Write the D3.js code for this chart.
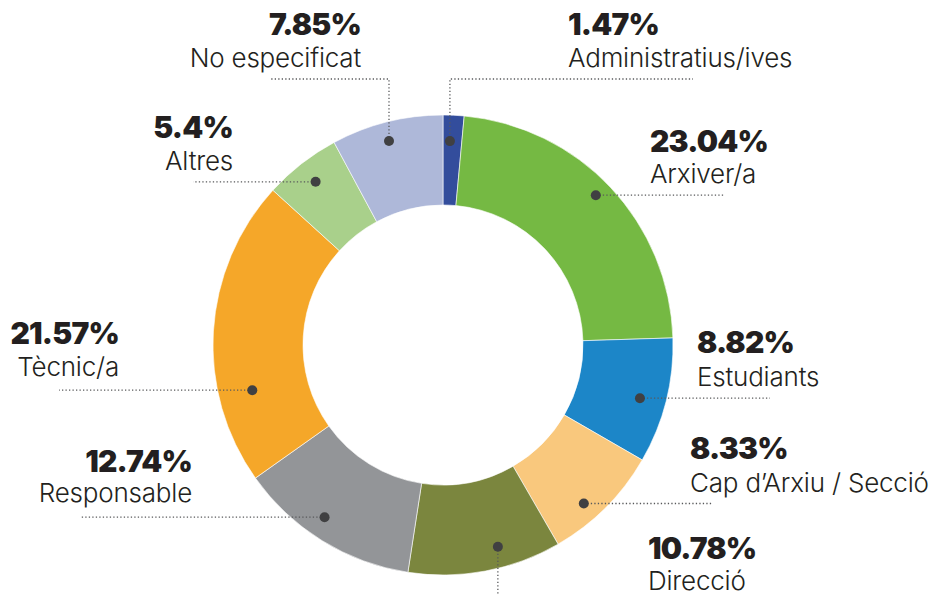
<!DOCTYPE html>
<html>
<head>
<meta charset="utf-8">
<script src="https://cdn.jsdelivr.net/npm/d3@7/dist/d3.min.js"></script>
<style>
  html, body { margin: 0; padding: 0; background: #ffffff; }
  svg { display: block; }
  .pct { font-family: Inter, "Noto Sans", sans-serif; font-weight: 900; font-size: 30px; fill: #231f20; letter-spacing: -0.8px; }
  .name { font-family: Inter, "Noto Sans", sans-serif; font-weight: 300; font-size: 26px; fill: #231f20; letter-spacing: -0.2px; }
</style>
</head>
<body>
<svg id="chart" width="937" height="595"></svg>
<script>
// ---- Data ----
const categories = ["Administratius/ives", "Arxiver/a", "Estudiants", "Cap d\u2019Arxiu / Secci\u00f3", "Direcci\u00f3", "Responsable", "T\u00e8cnic/a", "Altres", "No especificat"];
const values = [1.47, 23.04, 8.82, 8.33, 10.78, 12.74, 21.57, 5.4, 7.85];
const valueLabels = ["1.47%", "23.04%", "8.82%", "8.33%", "10.78%", "12.74%", "21.57%", "5.4%", "7.85%"];
const colors = ["#334d9c", "#75b943", "#1c86c8", "#f9c87d", "#7b863e", "#939598", "#f5a729", "#a9d08b", "#aeb8d9"];

// ---- Layout (annotation placement) ----
const W = 937, H = 595;
const cx = 443, cy = 345, rOuter = 230, rInner = 140;
const layout = [
  { anchor: "start", x: 568, y1: 35,  y2: 67,  dA: -0.7, r: 204, route: "up",    turnY: 79, endX: 693 },
  { anchor: "start", x: 650, y1: 152, y2: 183, dA: -1.2, r: 214, route: "h",     endX: 725 },
  { anchor: "start", x: 697, y1: 353, y2: 386, dA: 1.0,  r: 204, route: "h",     endX: 770 },
  { anchor: "start", x: 690, y1: 459, y2: 492, dA: 3.4,  r: 212, route: "h",     endX: 713 },
  { anchor: "start", x: 648, y1: 559, y2: 590, dA: -4.6, r: 209, route: "down",  endY: 595 },
  { anchor: "end",   x: 192, y1: 472, y2: 502, dA: 2.8,  r: 209, route: "h",     endX: 81 },
  { anchor: "end",   x: 119, y1: 344, y2: 376, dA: -16.8, r: 196, route: "h",    endX: 59 },
  { anchor: "end",   x: 233, y1: 138, y2: 170, dA: 0,    r: 207, route: "h",     endX: 193 },
  { anchor: "end",   x: 361, y1: 35,  y2: 67,  dA: -0.7, r: 211, route: "up",    turnY: 79, endX: 270 }
];

const svg = d3.select("#chart");
const g = svg.append("g").attr("transform", `translate(${cx},${cy})`);

const pie = d3.pie().sort(null).value(d => d)(values);
const arc = d3.arc().innerRadius(rInner).outerRadius(rOuter);

g.selectAll("path.slice")
  .data(pie)
  .join("path")
  .attr("class", "slice")
  .attr("d", arc)
  .attr("fill", (d, i) => colors[i])
  .attr("stroke", "#ffffff")
  .attr("stroke-width", 0.6);

// ---- Annotations ----
const ann = svg.append("g");
pie.forEach((d, i) => {
  const L = layout[i];
  const mid = (d.startAngle + d.endAngle) / 2 + L.dA * Math.PI / 180;
  const dx = cx + L.r * Math.sin(mid);
  const dy = cy - L.r * Math.cos(mid);
  let pts;
  if (L.route === "h") pts = [[dx, dy], [L.endX, dy]];
  else if (L.route === "up") pts = [[dx, dy], [dx, L.turnY], [L.endX, L.turnY]];
  else pts = [[dx, dy], [dx, L.endY]];
  ann.append("path")
    .attr("d", d3.line()(pts))
    .attr("fill", "none")
    .attr("stroke", "#58595b")
    .attr("stroke-width", 1.3)
    .attr("stroke-dasharray", "1.3,2.2");
  ann.append("circle")
    .attr("cx", dx).attr("cy", dy).attr("r", 5)
    .attr("fill", "#404042");
  ann.append("text")
    .attr("class", "pct")
    .attr("x", L.x).attr("y", L.y1)
    .attr("text-anchor", L.anchor)
    .text(valueLabels[i]);
  ann.append("text")
    .attr("class", "name")
    .attr("x", L.x).attr("y", L.y2)
    .attr("text-anchor", L.anchor)
    .text(categories[i]);
});
</script>
</body>
</html>
